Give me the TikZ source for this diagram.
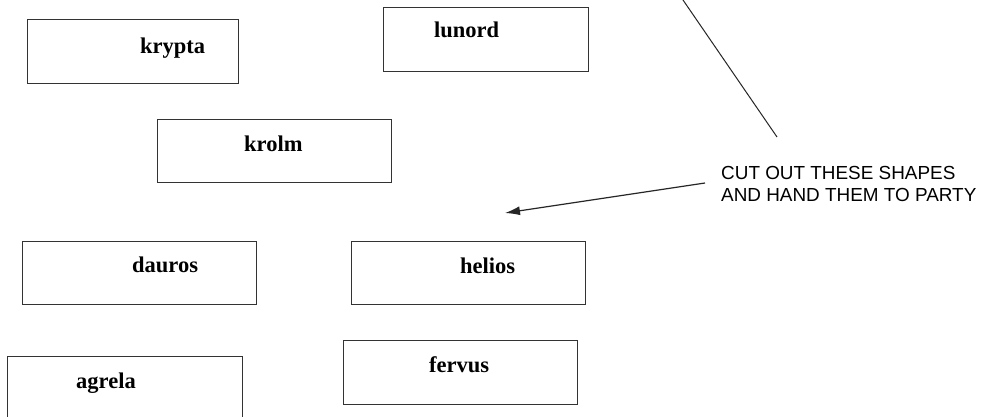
\documentclass[tikz,border=0pt]{standalone}
\usepackage{fontspec}
\setmainfont{Liberation Serif}
\newfontfamily\notefont{Liberation Sans}
\usetikzlibrary{arrows.meta}
\begin{document}
\begin{tikzpicture}[x=1pt,y=-1pt,
  shapebox/.style={draw=black!80,line width=1.3pt,rectangle,inner sep=0pt,anchor=north west},
  shapelabel/.style={font=\fontsize{22.5}{26}\selectfont\bfseries,inner sep=0pt,anchor=base west},
  notetext/.style={font=\notefont\fontsize{18.9}{22}\selectfont,inner sep=0pt,anchor=base west},
  pointer/.style={draw=black!85,line width=1.2pt}]
\useasboundingbox (0,0) rectangle (982,417);
\clip (0,0) rectangle (982,417);
\fill[white] (0,0) rectangle (982,417);
% boxes
\node[shapebox,minimum width=211pt,minimum height=64pt] (kryptabox) at (27,19) {};
\node[shapebox,minimum width=205pt,minimum height=64pt] (lunordbox) at (383,7) {};
\node[shapebox,minimum width=234pt,minimum height=63pt] (krolmbox) at (157,119) {};
\node[shapebox,minimum width=234pt,minimum height=63pt] (daurosbox) at (22,241) {};
\node[shapebox,minimum width=234pt,minimum height=63pt] (heliosbox) at (351,241) {};
\node[shapebox,minimum width=234pt,minimum height=64pt] (fervusbox) at (343,340) {};
\node[shapebox,minimum width=235pt,minimum height=80pt] (agrelabox) at (7,356) {};
% labels
\node[shapelabel] (krypta) at (140,54) {krypta};
\node[shapelabel] (lunord) at (434,38) {lunord};
\node[shapelabel] (krolm) at (244,151) {krolm};
\node[shapelabel] (dauros) at (132,272) {dauros};
\node[shapelabel] (helios) at (460,273) {helios};
\node[shapelabel] (fervus) at (429,372) {fervus};
\node[shapelabel] (agrela) at (76,388) {agrela};
% note
\node[notetext] (note1) at (721,179) {CUT OUT THESE SHAPES};
\node[notetext] (note2) at (721,201) {AND HAND THEM TO PARTY};
% connectors
\coordinate (linetop) at (683,0);
\coordinate (lineend) at (777,137);
\coordinate (arrowstart) at (705,183);
\coordinate (arrowtip) at (505,213);
\draw[pointer,line width=1pt] (linetop) -- (lineend);
\draw[pointer,-{Latex[length=15pt,width=9pt]}] (arrowstart) -- (arrowtip);
\end{tikzpicture}
\end{document}
